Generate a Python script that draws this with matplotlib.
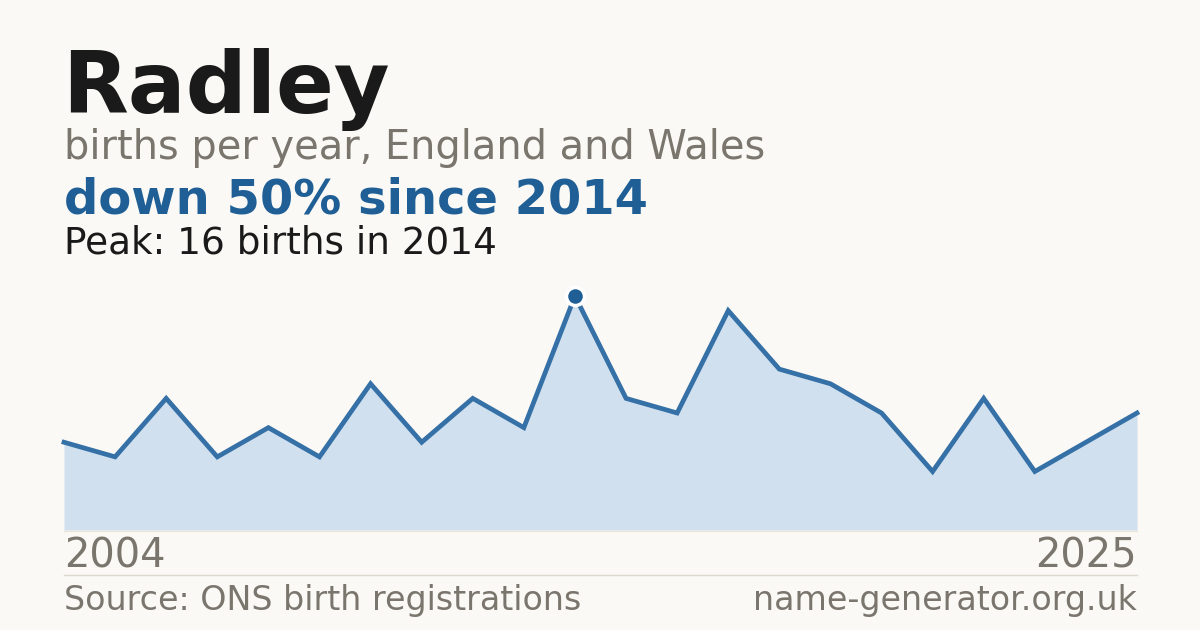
import matplotlib
matplotlib.use("Agg")
import matplotlib.pyplot as plt

plt.rcParams["font.family"] = ["DejaVu Sans"]

years = list(range(2004, 2026))
births = [6, 5, 9, 5, 7, 5, 10, 6, 9, 7, 16, 9, 8, 15, 11, 10, 8, 4, 9, 4, 6, 8]
peak_year = 2014
peak_value = 16

title = "Radley"
subtitle = "births per year, England and Wales"
headline = "down 50% since 2014"
peak_text = "Peak: 16 births in 2014"
source = "Source: ONS birth registrations"
site = "name-generator.org.uk"

BG = "#faf9f5"
GRAY = "#7a756d"
BLUE = "#1f5f96"
LINE = "#3570a6"
FILL = "#d0e0ef"
DARK = "#1a1a1a"

W, H = 1200, 630
fig = plt.figure(figsize=(12, 6.3), dpi=100, facecolor=BG)

def fx(px):
    return px / W

def fy(py):
    return 1 - py / H

ax = fig.add_axes([fx(64), fy(530), fx(1137) - fx(64), fy(296) - fy(530)])
ax.set_facecolor(BG)
ax.patch.set_alpha(0)
ax.fill_between(years, births, 0, color=FILL, linewidth=0)
ax.plot(years, births, color=LINE, linewidth=3.4, solid_joinstyle="miter", clip_on=False)
ax.plot([peak_year], [peak_value], "o", markersize=13, color=BLUE,
        markeredgecolor="#ffffff", markeredgewidth=2.5, clip_on=False, zorder=5)
ax.set_xlim(years[0], years[-1])
ax.set_ylim(0, peak_value)
ax.axis("off")

# baseline of fill
fig.add_artist(plt.Line2D([fx(64), fx(1137)], [fy(530.5), fy(530.5)], color="#ebe6dc", linewidth=1))
# separator
fig.add_artist(plt.Line2D([fx(64), fx(1137)], [fy(574.5), fy(574.5)], color="#dcd8d0", linewidth=1))

fig.text(fx(62), fy(113), title, fontsize=61.6, fontweight="bold", color=DARK, va="baseline", ha="left")
fig.text(fx(64), fy(159), subtitle, fontsize=28.75, color=GRAY, va="baseline", ha="left")
fig.text(fx(64), fy(214), headline, fontsize=34.6, fontweight="bold", color=BLUE, va="baseline", ha="left")
fig.text(fx(64), fy(253), peak_text, fontsize=26.9, color=DARK, va="baseline", ha="left")

fig.text(fx(64), fy(568), str(years[0]), fontsize=28.8, color=GRAY, va="baseline", ha="left")
fig.text(fx(1137), fy(568), str(years[-1]), fontsize=28.8, color=GRAY, va="baseline", ha="right")
fig.text(fx(64), fy(610), source, fontsize=23.95, color=GRAY, va="baseline", ha="left")
fig.text(fx(1137), fy(610), site, fontsize=23.95, color=GRAY, va="baseline", ha="right")

fig.savefig("out.png", dpi=100, facecolor=BG)
